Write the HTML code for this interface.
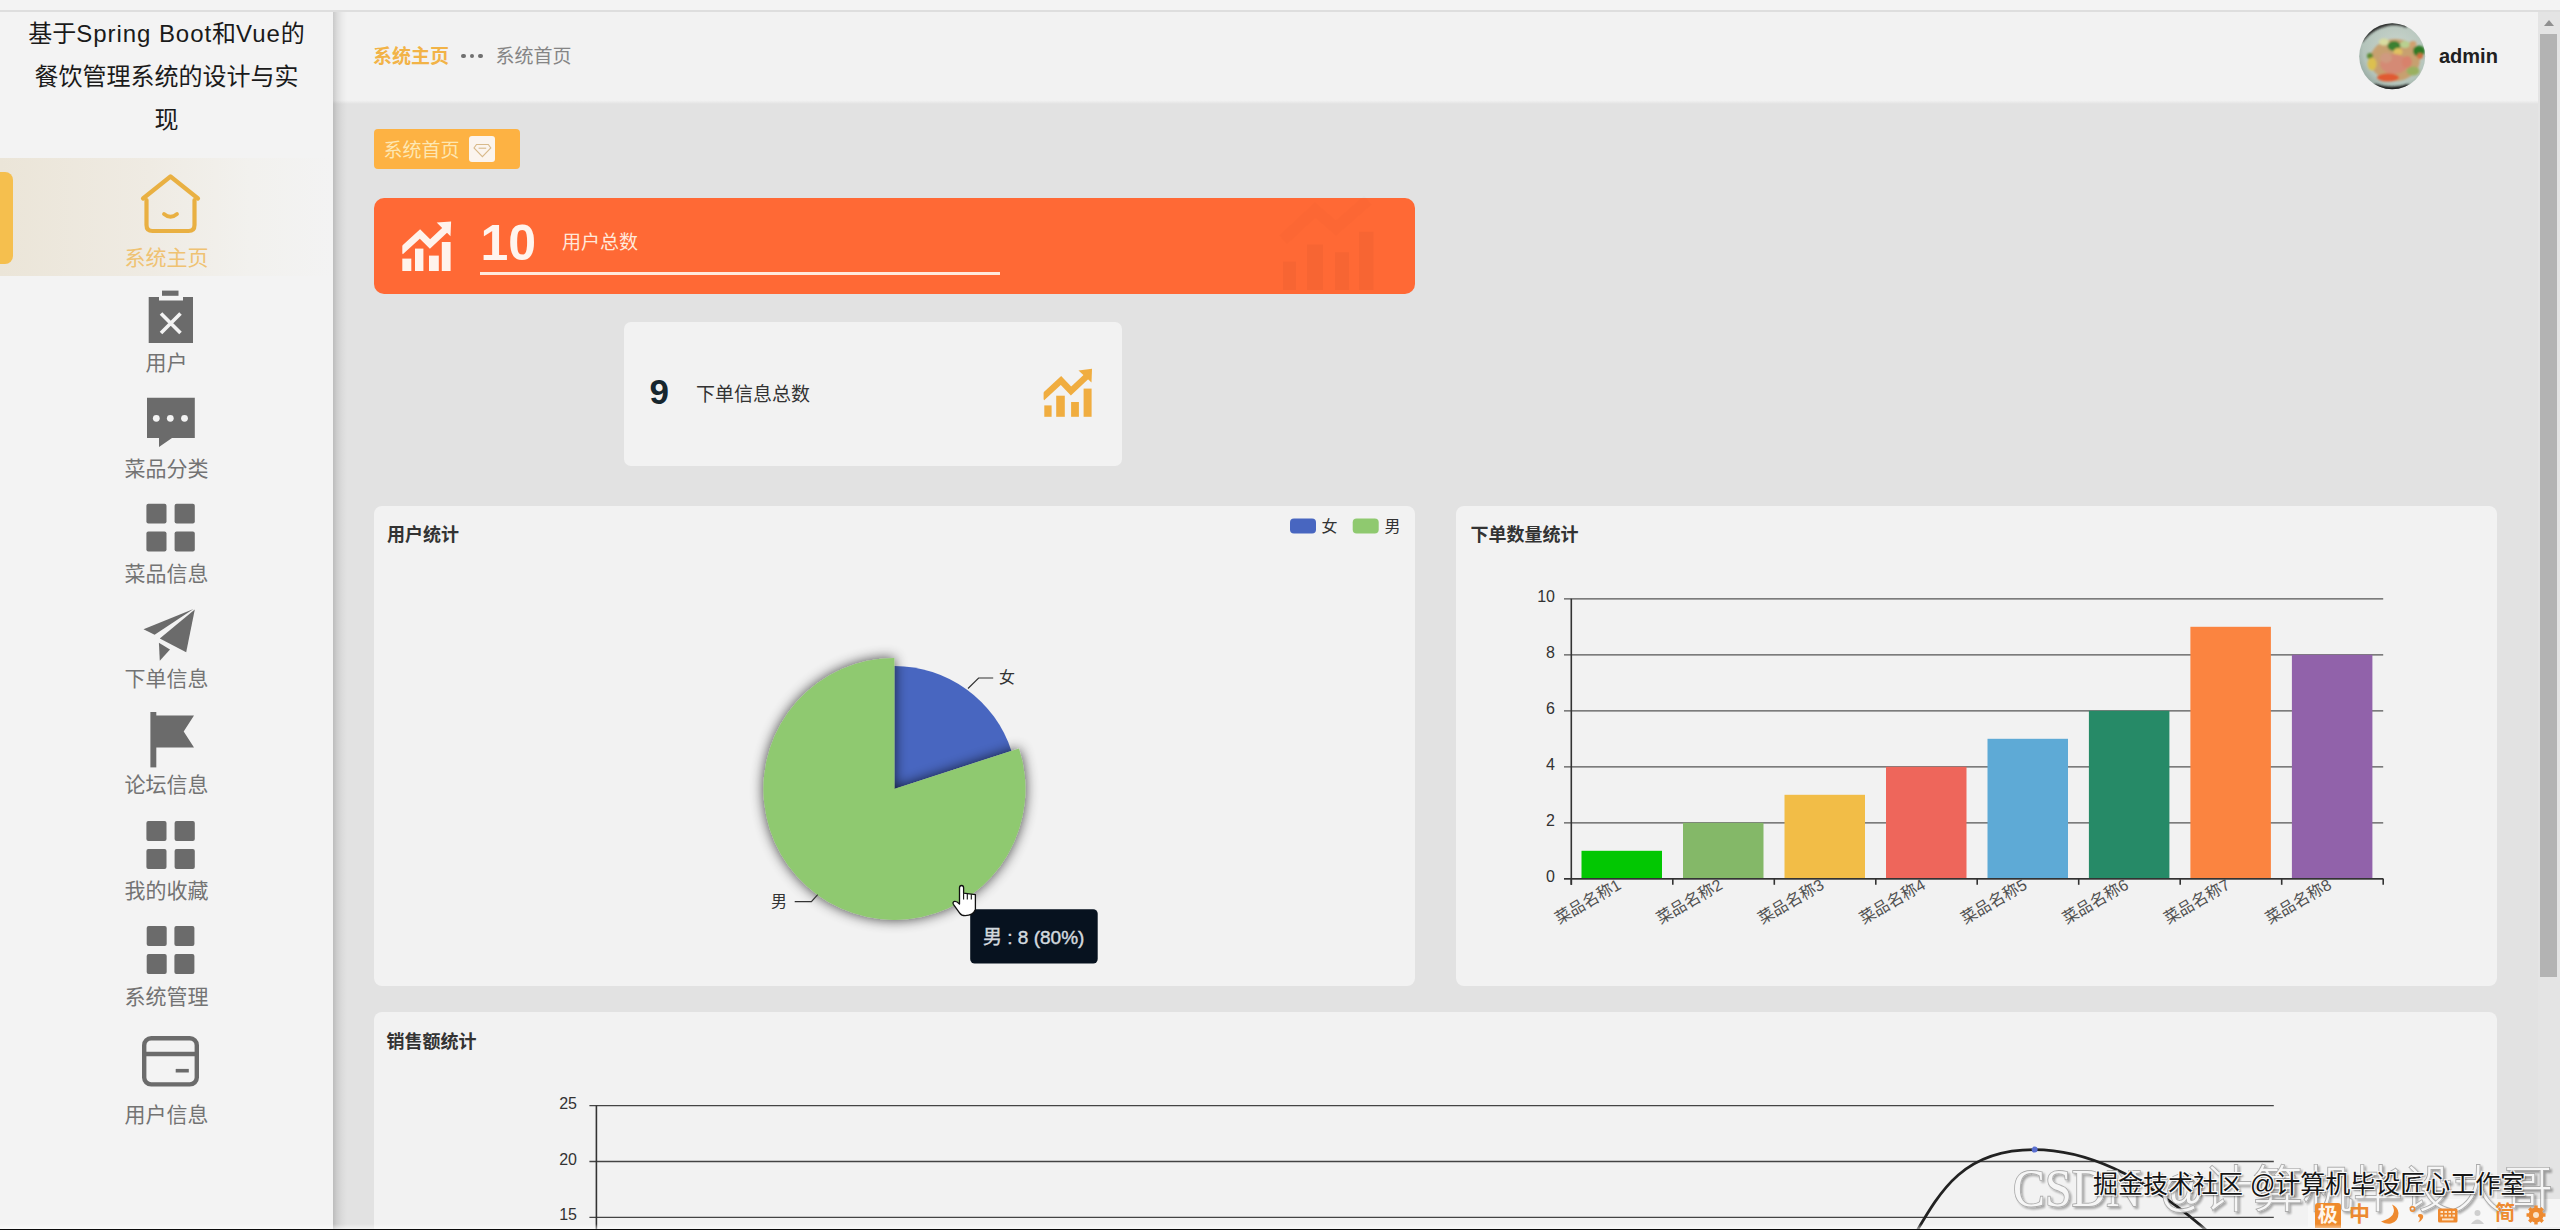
<!DOCTYPE html>
<html lang="zh-CN">
<head>
<meta charset="utf-8">
<title>餐饮管理系统</title>
<style>
*{box-sizing:border-box;margin:0;padding:0}
html,body{width:2560px;height:1230px;overflow:hidden}
body{position:relative;background:#f3f3f3;font-family:"Liberation Sans","Noto Sans CJK SC",sans-serif;color:#333}
.abs{position:absolute}
#topline{left:0;top:10px;width:2560px;height:2px;background:#dedede}
#sidebar{left:0;top:12px;width:333px;height:1218px;background:#f3f3f3}
#sbshadow{left:333px;top:12px;width:14px;height:1218px;background:linear-gradient(to right,rgba(0,0,0,.17),rgba(0,0,0,.09) 30%,rgba(0,0,0,.03) 65%,rgba(0,0,0,0))}
#header{left:333px;top:12px;width:2205px;height:90px;background:#f2f2f2}
#content{left:333px;top:102px;width:2205px;height:1128px;background:#e2e2e2}
#hdrshadow{left:333px;top:100px;width:2205px;height:4px;background:linear-gradient(#f3f3f3,#e2e2e2)}
#scroll{left:2538px;top:12px;width:22px;height:1218px;background:#e4e4e4}
#thumb{left:2540px;top:34px;width:17px;height:943px;background:#b3b3b3}
#uparrow{left:2544px;top:20px;width:0;height:0;border-left:5px solid transparent;border-right:5px solid transparent;border-bottom:6px solid #909090}
#bottomline{left:0;top:1228.8px;width:2560px;height:1.2px;background:#0a0a0a}
#bottomglow{left:0;top:1223.5px;width:2560px;height:5.3px;background:linear-gradient(rgba(255,255,255,0),rgba(255,255,255,.55))}
.title{left:0;width:333px;top:12px;text-align:center;font-size:24px;line-height:43px;color:#1a1a1a}
.mi{position:absolute;left:0;width:333px;text-align:center;font-size:21px;color:#737373}
.card{position:absolute;background:#f2f2f2}
</style>
</head>
<body>

<div id="topline" class="abs"></div>
<div id="sidebar" class="abs"></div>
<div id="header" class="abs"></div>
<div id="content" class="abs"></div>
<div id="hdrshadow" class="abs"></div>
<div id="sbshadow" class="abs"></div>
<div id="scroll" class="abs"></div>
<div id="thumb" class="abs"></div>
<div id="uparrow" class="abs"></div>

<!-- sidebar -->

<div class="abs title">基于<span style="letter-spacing:0.95px">Spring Boot</span>和<span style="letter-spacing:0.95px">Vue</span>的<br>餐饮管理系统的设计与实<br>现</div>
<div class="abs" style="left:0;top:158px;width:333px;height:118px;background:linear-gradient(to right,#ebe5d8 0%,#efebe3 45%,#f2f1ee 75%,#f3f3f3 100%)"></div>
<div class="abs" style="left:0;top:172px;width:13px;height:92px;background:#f5bf4e;border-radius:0 8px 8px 0"></div>
<svg class="abs" style="left:0;top:0" width="333" height="1230" viewBox="0 0 333 1230">
 <g fill="none" stroke="#e9b042" stroke-width="4.2" stroke-linecap="round" stroke-linejoin="round">
  <path d="M146.5 200 L146.5 225 Q146.5 231 152.5 231 L188.5 231 Q194.5 231 194.5 225 L194.5 200"/>
  <path d="M143 198.5 L170.5 176.5 L198 198.5"/>
  <path d="M164 214 Q170.5 219.5 177 214" stroke-width="3.8"/>
 </g>
 <g fill="#6b6b6b">
  <rect x="148.7" y="297" width="44.3" height="46"/>
  <rect x="162" y="290.6" width="16.5" height="5.2"/>
  <rect x="159" y="296" width="24" height="4.5" fill="#f3f3f3"/>
  <path d="M161 313.5 L180.5 333 M180.5 313.5 L161 333" stroke="#f3f3f3" stroke-width="3.6"/>
  <path d="M147 397.8 H194.8 V438 H172 L159 447 V438 H147 Z"/>
  <circle cx="156.3" cy="418.3" r="3.4" fill="#f3f3f3"/><circle cx="170.3" cy="418.3" r="3.4" fill="#f3f3f3"/><circle cx="184.5" cy="418.3" r="3.4" fill="#f3f3f3"/>
  <rect x="146.4" y="503.7" width="20.1" height="19.8" rx="2"/><rect x="174.6" y="503.7" width="20.2" height="19.8" rx="2"/>
  <rect x="146.4" y="531.5" width="20.1" height="20" rx="2"/><rect x="174.6" y="531.5" width="20.2" height="20" rx="2"/>
  <path d="M143.5 629.2 L193.5 609 L154.6 634.8 Z"/>
  <path d="M159.8 638.5 L194.8 609.5 L186.2 652.2 Z"/>
  <path d="M158.9 642.8 L170 649.6 L159.8 660.7 Z"/>
  <rect x="150.4" y="712" width="5.9" height="55.4"/>
  <path d="M156 715.4 H194 L183.7 731.6 L194 747.5 H156 Z"/>
  <rect x="146.4" y="821" width="20.1" height="20" rx="2"/><rect x="174.6" y="821" width="20.2" height="20" rx="2"/>
  <rect x="146.4" y="849" width="20.1" height="20" rx="2"/><rect x="174.6" y="849" width="20.2" height="20" rx="2"/>
  <rect x="146.7" y="926" width="20" height="20" rx="2"/><rect x="174.4" y="926" width="20" height="20" rx="2"/>
  <rect x="146.7" y="954" width="20" height="20" rx="2"/><rect x="174.4" y="954" width="20" height="20" rx="2"/>
 </g>
 <g fill="none" stroke="#6b6b6b" stroke-width="4.4">
  <rect x="144.2" y="1038.2" width="52.6" height="46.2" rx="7"/>
  <path d="M144.2 1054 H196.8"/>
  <path d="M175.7 1070.7 H188.8" stroke-width="3.6"/>
 </g>
</svg>
<div class="mi" style="top:241px;color:#efc272">系统主页</div>
<div class="mi" style="top:346px">用户</div>
<div class="mi" style="top:452px">菜品分类</div>
<div class="mi" style="top:557px">菜品信息</div>
<div class="mi" style="top:662px">下单信息</div>
<div class="mi" style="top:768px">论坛信息</div>
<div class="mi" style="top:874px">我的收藏</div>
<div class="mi" style="top:980px">系统管理</div>
<div class="mi" style="top:1098px">用户信息</div>

<!-- header -->

<div class="abs" style="left:373px;top:42.5px;font-size:19px;line-height:28px;font-weight:bold;color:#f2b347">系统主页</div>
<div class="abs" style="left:461px;top:53.6px;width:4.6px;height:4.6px;border-radius:50%;background:#707070"></div>
<div class="abs" style="left:469.6px;top:53.6px;width:4.6px;height:4.6px;border-radius:50%;background:#707070"></div>
<div class="abs" style="left:478.2px;top:53.6px;width:4.6px;height:4.6px;border-radius:50%;background:#707070"></div>
<div class="abs" style="left:495.5px;top:42.5px;font-size:19px;line-height:28px;color:#858585">系统首页</div>
<div class="abs" style="left:2439px;top:43px;font-size:20px;line-height:26px;font-weight:bold;color:#202020">admin</div>
<svg class="abs" style="left:2355px;top:19px" width="76" height="76" viewBox="2355 19 76 76">
 <defs>
  <clipPath id="av"><circle cx="2392.2" cy="56.3" r="33"/></clipPath>
  <filter id="bl" x="-20%" y="-20%" width="140%" height="140%"><feGaussianBlur stdDeviation="1.2"/></filter>
  <radialGradient id="plate" cx="55%" cy="40%" r="55%"><stop offset="0" stop-color="#cbd6ce"/><stop offset="0.8" stop-color="#b4c4bb"/><stop offset="1" stop-color="#98aaa2"/></radialGradient>
 </defs>
 <g clip-path="url(#av)">
  <rect x="2355" y="19" width="76" height="76" fill="url(#plate)"/>
  <g filter="url(#bl)">
   <path d="M2361 41 Q2372 26 2392 23 Q2402 23 2407 26" stroke="#2b2b2b" stroke-width="4" fill="none"/>
   <path d="M2374 86 Q2392 92 2409 86" stroke="#1e1e1e" stroke-width="4.5" fill="none"/>
   <ellipse cx="2395" cy="60" rx="25" ry="21" fill="#c7a070"/>
   <ellipse cx="2384" cy="42" rx="5" ry="3.5" fill="#d8dca0"/>
   <ellipse cx="2394" cy="46" rx="6.5" ry="5" fill="#3a8030"/>
   <ellipse cx="2405" cy="44.5" rx="5" ry="3.5" fill="#b8d090"/>
   <ellipse cx="2413" cy="44" rx="3.5" ry="3" fill="#d0a070"/>
   <ellipse cx="2419" cy="51" rx="6" ry="5.5" fill="#2e7a28"/>
   <ellipse cx="2398" cy="52" rx="4.5" ry="4" fill="#e0c060"/>
   <ellipse cx="2394" cy="64" rx="14" ry="10" fill="#d48a74"/>
   <ellipse cx="2386" cy="58" rx="6" ry="5" fill="#cf9a80"/>
   <ellipse cx="2370" cy="56" rx="3" ry="3" fill="#5a8a30"/>
   <ellipse cx="2372" cy="64" rx="4.5" ry="6.5" fill="#dcc050"/>
   <ellipse cx="2388" cy="77.5" rx="11" ry="4" fill="#e05a30"/>
   <ellipse cx="2413" cy="71" rx="6.5" ry="4.5" fill="#9ab060"/>
   <ellipse cx="2420" cy="56" rx="3" ry="3" fill="#d07040"/>
   <ellipse cx="2407" cy="62" rx="5" ry="6" fill="#d8826c"/>
  </g>
 </g>
</svg>

<!-- top cards -->

<div class="abs" style="left:373.7px;top:129px;width:146.5px;height:39.5px;border-radius:4px;background:#fdb243"></div>
<div class="abs" style="left:383.5px;top:138px;font-size:19px;line-height:26px;color:#fde7b2">系统首页</div>
<div class="abs" style="left:469.4px;top:135.8px;width:26px;height:26.4px;border-radius:3px;background:#fbf4ee"></div>
<div class="abs" style="left:373.7px;top:198px;width:1041px;height:96px;border-radius:10px;background:#ff6935"></div>
<div class="abs" style="left:480.5px;top:212.5px;font-size:50px;line-height:60px;font-weight:bold;color:#fff4ee">10</div>
<div class="abs" style="left:562px;top:230px;font-size:19px;line-height:26px;color:#ffe8da">用户总数</div>
<div class="abs" style="left:480px;top:271.5px;width:520px;height:3px;background:#ffe9dc"></div>
<div class="card" style="left:623.5px;top:321.5px;width:498.5px;height:144px;border-radius:7px"></div>
<div class="abs" style="left:649.5px;top:369.5px;font-size:35px;line-height:44px;font-weight:bold;color:#17262e">9</div>
<div class="abs" style="left:696px;top:381.5px;font-size:19px;line-height:26px;color:#333">下单信息总数</div>
<div class="card" style="left:373.7px;top:505.5px;width:1041.2px;height:480px;border-radius:8px"></div>
<div class="card" style="left:1456px;top:505.5px;width:1041.3px;height:480px;border-radius:8px"></div>
<div class="card" style="left:373.7px;top:1011.5px;width:2123.6px;height:240px;border-radius:8px"></div>
<div class="abs" style="left:387px;top:520.5px;font-size:18px;line-height:28px;font-weight:bold;color:#333">用户统计</div>
<div class="abs" style="left:1470.5px;top:520.5px;font-size:18px;line-height:28px;font-weight:bold;color:#333">下单数量统计</div>
<div class="abs" style="left:386.5px;top:1028px;font-size:18px;line-height:28px;font-weight:bold;color:#333">销售额统计</div>

<!-- charts -->

<svg class="abs" style="left:0;top:0" width="2560" height="1230" viewBox="0 0 2560 1230">
 <defs>
  <filter id="sh" x="-30%" y="-30%" width="160%" height="160%"><feGaussianBlur in="SourceAlpha" stdDeviation="6.5"/><feComponentTransfer><feFuncA type="linear" slope="0.75"/></feComponentTransfer><feMerge><feMergeNode/><feMergeNode in="SourceGraphic"/></feMerge></filter>
 </defs>
 <!-- orange card icon -->
 <g fill="#fff3ec">
  <rect x="402.3" y="258.6" width="9" height="12.4"/>
  <rect x="415" y="248.6" width="8.4" height="22.4"/>
  <rect x="429" y="255.6" width="9.8" height="15.4"/>
  <rect x="441.8" y="242" width="8.8" height="29"/>
  <path d="M436.7 222.6 L451.1 221.6 L450.5 236.3 Z"/>
 </g>
 <path d="M400.5 251.8 L420 234 L430 244 L445.5 229.5" fill="none" stroke="#fff3ec" stroke-width="6.8"/>
 <rect x="395" y="242" width="7.3" height="15" fill="#ff6935"/>
 <!-- faint big icon -->
 <g fill="#000" opacity="0.028">
  <rect x="1283" y="261.6" width="13" height="28.4"/>
  <rect x="1307" y="244.5" width="16" height="45.5"/>
  <rect x="1335" y="252.2" width="14" height="37.8"/>
  <rect x="1359" y="231.7" width="14.6" height="58.3"/>
 </g>
 <path d="M1283 240 L1315 210 L1336 228 L1368 200" fill="none" stroke="#000" stroke-width="12" opacity="0.012"/>
 <!-- tag diamond -->
 <path d="M476.5 144.5 H488.3 L490.8 148 L482.4 156.6 L474 148 Z" fill="none" stroke="#d8b98a" stroke-width="1.1"/>
 <path d="M478.6 148.2 H486.2" stroke="#d8b98a" stroke-width="1.1"/>
 <!-- card2 icon -->
 <g fill="#f0ad40">
  <rect x="1044.3" y="405.4" width="7.3" height="11.4"/>
  <rect x="1056.2" y="395.7" width="8.6" height="21.1"/>
  <rect x="1071.1" y="402" width="7.8" height="14.8"/>
  <rect x="1083.6" y="388.6" width="8" height="28.2"/>
  <path d="M1078.5 370.4 L1092 368.7 L1091.5 382.5 Z"/>
 </g>
 <path d="M1042 398 L1061 380.5 L1071 391 L1086.5 376.5" fill="none" stroke="#f0ad40" stroke-width="6.4"/>
 <rect x="1036" y="387" width="7.6" height="16" fill="#f2f2f2"/>

 <!-- pie -->
 <path d="M894.4 788.9 L894.4 665.9 A123 123 0 0 1 1011.4 750.9 Z" fill="#4866c0"/>
 <path filter="url(#sh)" d="M894.4 788.9 L1019.0 748.4 A131 131 0 1 1 894.4 657.9 Z" fill="#8fc96f"/>
 <g fill="none" stroke="#333" stroke-width="1.2">
  <path d="M968 688.5 L978.6 678 L993.2 678"/>
  <path d="M794.7 901.7 L811.4 901.7 L817.7 894.6"/>
 </g>
 <g font-family="Liberation Sans,Noto Sans CJK SC,sans-serif" font-size="16" fill="#333">
  <text x="999" y="683">女</text>
  <text x="771" y="906.5">男</text>
  <rect x="1290" y="518.4" width="26" height="15" rx="4" fill="#4866c0"/>
  <text x="1321.5" y="532">女</text>
  <rect x="1352.7" y="518.4" width="26" height="15" rx="4" fill="#8fc96f"/>
  <text x="1384.5" y="532">男</text>
 </g>
 <rect x="970.2" y="909.2" width="127.5" height="54.4" rx="4.5" fill="#07121f"/>
 <text x="983" y="944" font-family="Liberation Sans,Noto Sans CJK SC,sans-serif" font-size="19" fill="#d2d9df" stroke="#d2d9df" stroke-width="0.45">男 : 8 (80%)</text>

 <!-- bar chart -->
 <g stroke="#555" stroke-width="1.3" fill="none"><path d="M1564.0 878.8H2383.2"/><path d="M1564.0 822.8H2383.2"/><path d="M1564.0 766.8H2383.2"/><path d="M1564.0 710.8H2383.2"/><path d="M1564.0 654.8H2383.2"/><path d="M1564.0 598.8H2383.2"/></g>
 <rect x="1581.5" y="850.8" width="80.5" height="28.0" fill="#02c702"/><rect x="1683.0" y="822.8" width="80.5" height="56.0" fill="#84b868"/><rect x="1784.5" y="794.8" width="80.5" height="84.0" fill="#f2bd47"/><rect x="1886.0" y="766.8" width="80.5" height="112.0" fill="#ee665b"/><rect x="1987.5" y="738.8" width="80.5" height="140.0" fill="#5eaad6"/><rect x="2088.9" y="710.8" width="80.5" height="168.0" fill="#268a67"/><rect x="2190.4" y="626.8" width="80.5" height="252.0" fill="#fb8440"/><rect x="2291.9" y="654.8" width="80.5" height="224.0" fill="#9162aa"/>
 <g stroke="#333" stroke-width="1.6" fill="none">
  <path d="M1571.3 598.8 V884.8"/>
  <path d="M1564.0 878.8 H2383.2"/>
  <path d="M1571.3 878.8V884.8"/><path d="M1672.8 878.8V884.8"/><path d="M1774.3 878.8V884.8"/><path d="M1875.8 878.8V884.8"/><path d="M1977.2 878.8V884.8"/><path d="M2078.7 878.8V884.8"/><path d="M2180.2 878.8V884.8"/><path d="M2281.7 878.8V884.8"/><path d="M2383.2 878.8V884.8"/>
 </g>
 <g font-family="Liberation Sans,Noto Sans CJK SC,sans-serif" font-size="16" fill="#333" text-anchor="end"><text x="1555" y="881.8">0</text><text x="1555" y="825.8">2</text><text x="1555" y="769.8">4</text><text x="1555" y="713.8">6</text><text x="1555" y="657.8">8</text><text x="1555" y="601.8">10</text></g>
 <g font-family="Liberation Sans,Noto Sans CJK SC,sans-serif" font-size="16" fill="#505050" text-anchor="end" dominant-baseline="middle"><text x="1620.0" y="884.3" transform="rotate(-30 1620.0 884.3)">菜品名称1</text><text x="1721.5" y="884.3" transform="rotate(-30 1721.5 884.3)">菜品名称2</text><text x="1823.0" y="884.3" transform="rotate(-30 1823.0 884.3)">菜品名称3</text><text x="1924.5" y="884.3" transform="rotate(-30 1924.5 884.3)">菜品名称4</text><text x="2026.0" y="884.3" transform="rotate(-30 2026.0 884.3)">菜品名称5</text><text x="2127.5" y="884.3" transform="rotate(-30 2127.5 884.3)">菜品名称6</text><text x="2229.0" y="884.3" transform="rotate(-30 2229.0 884.3)">菜品名称7</text><text x="2330.5" y="884.3" transform="rotate(-30 2330.5 884.3)">菜品名称8</text></g>

 <!-- line chart -->
 <g stroke="#444" stroke-width="1.3" fill="none"><path d="M589.4 1105.6H2273.8"/><path d="M589.4 1161.5H2273.8"/><path d="M589.4 1217.4H2273.8"/></g>
 <path d="M596.4 1105.6 V1230" stroke="#333" stroke-width="1.6"/>
 <g font-family="Liberation Sans,Noto Sans CJK SC,sans-serif" font-size="16" fill="#333" text-anchor="end"><text x="577" y="1108.6">25</text><text x="577" y="1164.5">20</text><text x="577" y="1220.4">15</text></g>
 <path d="M1794.5 1345.9 C1938.8 1296.0 1899.7 1149.6 2034.2 1149.6 C2157.0 1149.6 2273.8 1300.1 2273.8 1300.1" fill="none" stroke="#222" stroke-width="2.7"/>
 <circle cx="2034.6" cy="1149.6" r="3" fill="#5a6fd0"/>
</svg>

<!-- cursor -->

<svg class="abs" style="left:948px;top:882px" width="32" height="38" viewBox="948 882 32 38">
 <path d="M959.5 903.5 V887.8 Q959.5 885.5 961.6 885.5 Q963.6 885.5 963.6 887.8 V893.2 L975.4 894.6 V909.6 Q973 915.7 965.2 915.7 Q961.5 915.7 959.5 912.8 L953.4 904.3 Q952.2 902 954.6 901.4 Q956.6 901 959.5 904 Z" fill="#fff" stroke="#111" stroke-width="1.3" stroke-linejoin="round"/>
 <path d="M967.3 894 V899.5 M971.3 894.2 V899.5 M963.6 893.2 V899.5" stroke="#111" stroke-width="1.1"/>
</svg>

<!-- watermark -->

<div class="abs" style="left:2308px;top:1199px;width:252px;height:28px;background:rgba(248,248,248,.85)"></div>
<svg class="abs" style="left:0;top:0" width="2560" height="1230" viewBox="0 0 2560 1230">
 <defs><filter id="gs" x="-5%" y="-20%" width="110%" height="140%"><feGaussianBlur in="SourceAlpha" stdDeviation="0.8"/><feOffset dx="1.5" dy="1.5"/><feComponentTransfer><feFuncA type="linear" slope="0.35"/></feComponentTransfer><feMerge><feMergeNode/><feMergeNode in="SourceGraphic"/></feMerge></filter></defs>
 <g font-size="52" fill="#f7f7f7" stroke="#a4a4a4" stroke-width="1.8" paint-order="stroke" filter="url(#gs)" opacity="0.9">
  <text x="2013" y="1205.5" font-family="Liberation Serif,serif" textLength="128" lengthAdjust="spacingAndGlyphs">CSDN</text>
  <text x="2160" y="1205.5" font-family="Liberation Sans,sans-serif" font-size="44">@</text>
  <text x="2203" y="1207" font-family="Noto Sans CJK SC,sans-serif" font-size="50" font-weight="300">计算机毕设大哥</text>
 </g>
</svg>
<div class="abs" style="left:2093px;top:1167px;font-size:25px;line-height:34px;color:#151515;white-space:nowrap;text-shadow:-1px -1px 0 #fafafa,1px -1px 0 #fafafa,-1px 1px 0 #fafafa,1px 1px 0 #fafafa,2px 2px 2px rgba(0,0,0,.45)">掘金技术社区 @计算机毕设匠心工作室</div>
<div class="abs" style="left:2315px;top:1202.5px;width:25.6px;height:25px;background:#ef8a2b;border-radius:3px 3px 0 0;color:#fff6ea;font-size:20px;line-height:25px;text-align:center;font-weight:bold">极</div>
<div class="abs" style="left:2349px;top:1201px;font-size:21px;line-height:26px;color:#ec8a31;font-weight:bold">中</div>
<svg class="abs" style="left:2376px;top:1200px" width="184" height="27" viewBox="2376 1200 184 27">
 <path d="M2392 1204.5 Q2399 1216 2381 1221.5 Q2386 1224.5 2391 1223.5 Q2398.5 1221.5 2398.5 1213 Q2398 1207 2392 1204.5 Z" fill="#ee8a30"/>
 <circle cx="2412.5" cy="1209" r="2.2" fill="none" stroke="#ee8a30" stroke-width="1.4"/>
 <path d="M2420 1214 Q2424 1214 2423 1218 Q2421.5 1221 2418 1222.5 Q2420.5 1219.5 2419.5 1217.5 Q2417.5 1216.5 2418 1215 Q2418.5 1214 2420 1214 Z" fill="#ee8a30"/>
 <rect x="2438" y="1208.5" width="19.5" height="14" rx="1.5" fill="#ee8a30"/>
 <g fill="#fbe3c8"><rect x="2440.5" y="1211" width="2.5" height="2"/><rect x="2444.5" y="1211" width="2.5" height="2"/><rect x="2448.5" y="1211" width="2.5" height="2"/><rect x="2452.5" y="1211" width="2.5" height="2"/><rect x="2440.5" y="1214.6" width="2.5" height="2"/><rect x="2444.5" y="1214.6" width="2.5" height="2"/><rect x="2448.5" y="1214.6" width="2.5" height="2"/><rect x="2452.5" y="1214.6" width="2.5" height="2"/><rect x="2442" y="1218.4" width="11.5" height="2"/></g>
 <circle cx="2477.5" cy="1213" r="3" fill="#cfcfcf"/><path d="M2471 1224 Q2477.5 1215 2484 1224 Z" fill="#cfcfcf"/>
 <circle cx="2536" cy="1215" r="7.5" fill="#ee8a30"/>
 <g stroke="#ee8a30" stroke-width="3.4"><path d="M2536 1205.5 V1224.5 M2526.5 1215 H2545.5 M2529.3 1208.3 L2542.7 1221.7 M2542.7 1208.3 L2529.3 1221.7"/></g>
 <circle cx="2536" cy="1215" r="3" fill="#fbe3c8"/>
</svg>
<div class="abs" style="left:2495px;top:1200px;font-size:20px;line-height:26px;color:#ee8a30;font-weight:bold">简</div>
<div id="bottomglow" class="abs"></div>
<div id="bottomline" class="abs"></div>

</body>
</html>
